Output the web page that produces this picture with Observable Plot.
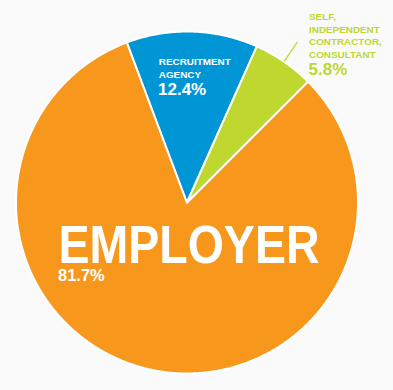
<!DOCTYPE html>
<html>
<head>
<meta charset="utf-8">
<script src="https://cdn.jsdelivr.net/npm/d3@7"></script>
<script src="https://cdn.jsdelivr.net/npm/@observablehq/plot@0.6"></script>
<style>
  html, body { margin: 0; padding: 0; background: #FAFAFA; }
  #chart { width: 393px; height: 390px; }
</style>
</head>
<body>
<div id="chart"></div>
<script>
// ---- data ----
const categories = ["Employer", "Recruitment agency", "Self, independent contractor, consultant"];
const shares = [81.7, 12.4, 5.8];
const nameLabels = ["EMPLOYER", "RECRUITMENT\nAGENCY", "SELF,\nINDEPENDENT\nCONTRACTOR,\nCONSULTANT"];
const pctLabels = shares.map(v => v + "%");
const colors = ["#F7981D", "#0096D6", "#BFD72F"];

// ---- layout ----
const W = 393, H = 390;
const cx = 186.5, cy = 202, R = 171;
const startDeg = 45;
const labelLayout = [
  {name: {x: 58, y: 262.7, size: 54, fill: "#fff"}, pct: {x: 57.5, y: 280, size: 16.5, fill: "#fff"}},
  {name: {x: 158.3, y: 77.3, size: 9.9, fill: "#fff"}, pct: {x: 157.5, y: 94, size: 17, fill: "#fff"}},
  {name: {x: 308.5, y: 57.3, size: 9.9, fill: colors[2]}, pct: {x: 308, y: 74, size: 17, fill: colors[2]}}
];

const start = startDeg * Math.PI / 180;
const arcs = d3.pie().sort(null).startAngle(start).endAngle(start + 2 * Math.PI)(shares);
const polar = (a, r) => [cx + r * Math.sin(a), cy - r * Math.cos(a)];

// slice outlines
const slicePts = [];
arcs.forEach((a, i) => {
  const cat = categories[i];
  slicePts.push({cat, p: [cx, cy]});
  const n = Math.max(2, Math.ceil((a.endAngle - a.startAngle) / (0.4 * Math.PI / 180)));
  for (let k = 0; k <= n; k++) {
    const t = a.startAngle + (a.endAngle - a.startAngle) * k / n;
    slicePts.push({cat, p: polar(t, R)});
  }
  slicePts.push({cat, p: [cx, cy]});
});

const selfArc = arcs[2];
const selfMid = (selfArc.startAngle + selfArc.endAngle) / 2;
const leader = [{a: polar(selfMid, R), b: polar(selfMid, R * 1.14)}];

const nameData = categories.map((c, i) => ({c, t: nameLabels[i], ...labelLayout[i].name}));
const pctData = categories.map((c, i) => ({c, t: pctLabels[i], ...labelLayout[i].pct}));

const font = "'Liberation Sans', Arial, sans-serif";

const chart = Plot.plot({
  width: W, height: H, margin: 0,
  x: {domain: [0, W], range: [0, W], axis: null},
  y: {domain: [0, H], range: [0, H], axis: null},
  color: {domain: categories, range: colors},
  style: {background: "#FAFAFA", fontFamily: font},
  marks: [
    Plot.line(slicePts, {x: d => d.p[0], y: d => d.p[1], z: "cat", fill: "cat", stroke: "#fff", strokeWidth: 2, strokeLinejoin: "round"}),
    Plot.link(leader, {x1: d => d.a[0], y1: d => d.a[1], x2: d => d.b[0], y2: d => d.b[1], stroke: colors[2], strokeWidth: 1.3}),
    ...nameData.map(d => Plot.text([d], {x: "x", y: "y", text: "t", fill: d.fill, fontSize: d.size, fontWeight: "bold", textAnchor: "start", lineAnchor: "bottom", lineHeight: 1.27, fontFamily: font})),
    ...pctData.map(d => Plot.text([d], {x: "x", y: "y", text: "t", fill: d.fill, fontSize: d.size, fontWeight: "bold", textAnchor: "start", lineAnchor: "bottom", fontFamily: font}))
  ]
});

chart.querySelectorAll("text").forEach(t => {
  if (t.textContent === "EMPLOYER") {
    t.setAttribute("textLength", 261);
    t.setAttribute("lengthAdjust", "spacingAndGlyphs");
  }
});

document.getElementById("chart").appendChild(chart);
</script>
</body>
</html>
